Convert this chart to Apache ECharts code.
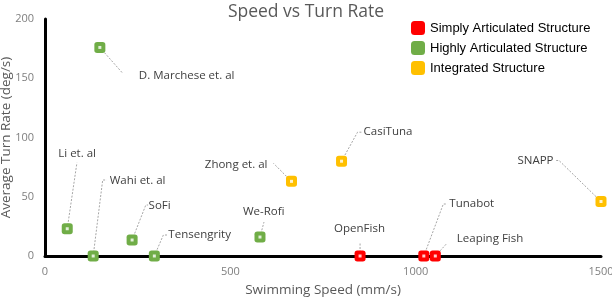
<!DOCTYPE html>
<html><head><meta charset="utf-8">
<script src="https://cdn.jsdelivr.net/npm/echarts@6/dist/echarts.min.js"></script>
<style>html,body{margin:0;padding:0;background:#fff}#c{width:612px;height:298px}</style>
</head><body><div id="c"></div>
<script>
// ---- data ----
const seriesNames = ['Simply Articulated Structure', 'Highly Articulated Structure', 'Integrated Structure'];
const simplyNames = ['OpenFish', 'Tunabot', 'Leaping Fish'];
const simplySpeed = [850, 1022, 1053];
const simplyTurn  = [0, 0, 0];
const highlyNames = ['D. Marchese et. al', 'Li et. al', 'Wahi et. al', 'SoFi', 'Tensengrity', 'We-Rofi'];
const highlySpeed = [148, 60, 130, 235, 295, 580];
const highlyTurn  = [176, 23, 0, 13.5, 0, 16];
const integNames = ['Zhong et. al', 'CasiTuna', 'SNAPP'];
const integSpeed = [665, 800, 1500];
const integTurn  = [63, 80, 46];
const xTicks = [0, 500, 1000, 1500];
const yTicks = [0, 50, 100, 150, 200];

// label placement: side of marker and pixel offset
const labelPlace = {
  'OpenFish': ['right', -31.5, -27], 'Tunabot': ['right', 20, -52], 'Leaping Fish': ['right', 16, -17],
  'D. Marchese et. al': ['right', 33.5, 28], 'Li et. al': ['right', -14.5, -75.5], 'Wahi et. al': ['right', 11, -75],
  'SoFi': ['right', 11, -34], 'Tensengrity': ['right', 8.5, -21], 'We-Rofi': ['right', -22.5, -25],
  'Zhong et. al': ['left', -18.5, -17], 'CasiTuna': ['right', 16.5, -29], 'SNAPP': ['left', -42, -41]
};
// leader line bend points, pixel offsets from the marker centre
const leaderPts = {
  'OpenFish': [[0, -14]], 'Tunabot': [[19.5, -52], [23.5, -52]], 'Leaping Fish': [[11, -12]],
  'D. Marchese et. al': [[23, 26]], 'Li et. al': [[9.7, -66]], 'Wahi et. al': [[9.5, -76], [13.5, -76]],
  'SoFi': [[13.7, -35], [16, -35]], 'Tensengrity': [[9, -21], [13, -21]], 'We-Rofi': [[4, -15]],
  'Zhong et. al': [[-18, -18]], 'CasiTuna': [[16, -29], [20, -29]], 'SNAPP': [[-42, -41], [-45.7, -41]]
};
const colors = ['#FF0000', '#70AD47', '#FFC000'];

const groups = [
  [simplyNames, simplySpeed, simplyTurn],
  [highlyNames, highlySpeed, highlyTurn],
  [integNames, integSpeed, integTurn]
];

const chart = echarts.init(document.getElementById('c'));
const series = groups.map((g, si) => {
  const data = g[0].map((n, i) => ({ name: n, value: [g[1][i], g[2][i]],
    label: { position: labelPlace[n][0] } }));
  return {
    name: seriesNames[si], type: 'scatter', symbol: 'roundRect', symbolSize: 11,
    itemStyle: { color: colors[si], opacity: 1 },
    data: data, z: 3,
    label: { show: true, distance: 0, formatter: p => p.name,
      fontFamily: 'Open Sans', fontSize: 11.5, color: '#404040' },
    labelLayout: function (p) {
      const o = labelPlace[data[p.dataIndex].name];
      return { dx: o[1], dy: o[2] };
    },
    emphasis: { disabled: true }
  };
});
// white centre dots
const dotData = [];
groups.forEach(g => g[0].forEach((n, i) => dotData.push([g[1][i], g[2][i]])));
series.push({ name: 'dots', type: 'scatter', symbol: 'rect', symbolSize: 3, silent: true,
  itemStyle: { color: '#FFFFFF' }, data: dotData, z: 4 });

chart.setOption({
  animation: false,
  title: { text: 'Speed vs Turn Rate', left: 301, textAlign: 'center', top: -2,
    textStyle: { fontFamily: 'Open Sans', fontSize: 17.5, fontWeight: 'normal', color: '#595959' } },
  legend: { data: seriesNames, orient: 'vertical', left: 411, top: 21, padding: 0,
    itemWidth: 14, itemHeight: 14, itemGap: 6, icon: 'roundRect', selectedMode: false,
    textStyle: { fontFamily: 'Liberation Sans', fontSize: 13, color: '#000' } },
  grid: { left: 45, top: 19, right: 11, bottom: 42, containLabel: false, outerBoundsMode: 'none' },
  xAxis: { type: 'value', min: xTicks[0], max: xTicks[xTicks.length - 1], interval: 500,
    name: 'Swimming Speed (mm/s)', nameLocation: 'middle', nameGap: 27, nameMoveOverlap: false,
    nameTextStyle: { fontFamily: 'Open Sans', fontSize: 13.5, color: '#595959' },
    axisLine: { lineStyle: { color: '#000', width: 3 } }, axisTick: { show: false },
    splitLine: { show: false },
    axisLabel: { fontFamily: 'Open Sans', fontSize: 11, color: '#7F7F7F', margin: 10,
      formatter: v => String(v) } },
  yAxis: { type: 'value', min: yTicks[0], max: yTicks[yTicks.length - 1], interval: 50,
    name: 'Average Turn Rate (deg/s)', nameLocation: 'middle', nameGap: 32, nameMoveOverlap: false,
    nameTextStyle: { fontFamily: 'Open Sans', fontSize: 13.5, color: '#595959' },
    axisLine: { show: true, lineStyle: { color: '#000', width: 3 } }, axisTick: { show: false },
    splitLine: { show: false },
    axisLabel: { fontFamily: 'Open Sans', fontSize: 11, color: '#7F7F7F', margin: 11,
      formatter: v => String(v) } },
  series: series
});

// leader lines, anchored on marker positions from the chart's own scales
const lines = [];
groups.forEach((g, si) => g[0].forEach((n, i) => {
  const p = chart.convertToPixel({ seriesIndex: si }, [g[1][i], g[2][i]]);
  const pts = [p].concat(leaderPts[n].map(o => [p[0] + o[0], p[1] + o[1]]));
  lines.push({ type: 'polyline', z: 2, silent: true, shape: { points: pts },
    style: { stroke: '#A6A6A6', lineWidth: 1, lineDash: [2, 1.5], fill: null } });
}));
chart.setOption({ graphic: { elements: lines } });
</script></body></html>
